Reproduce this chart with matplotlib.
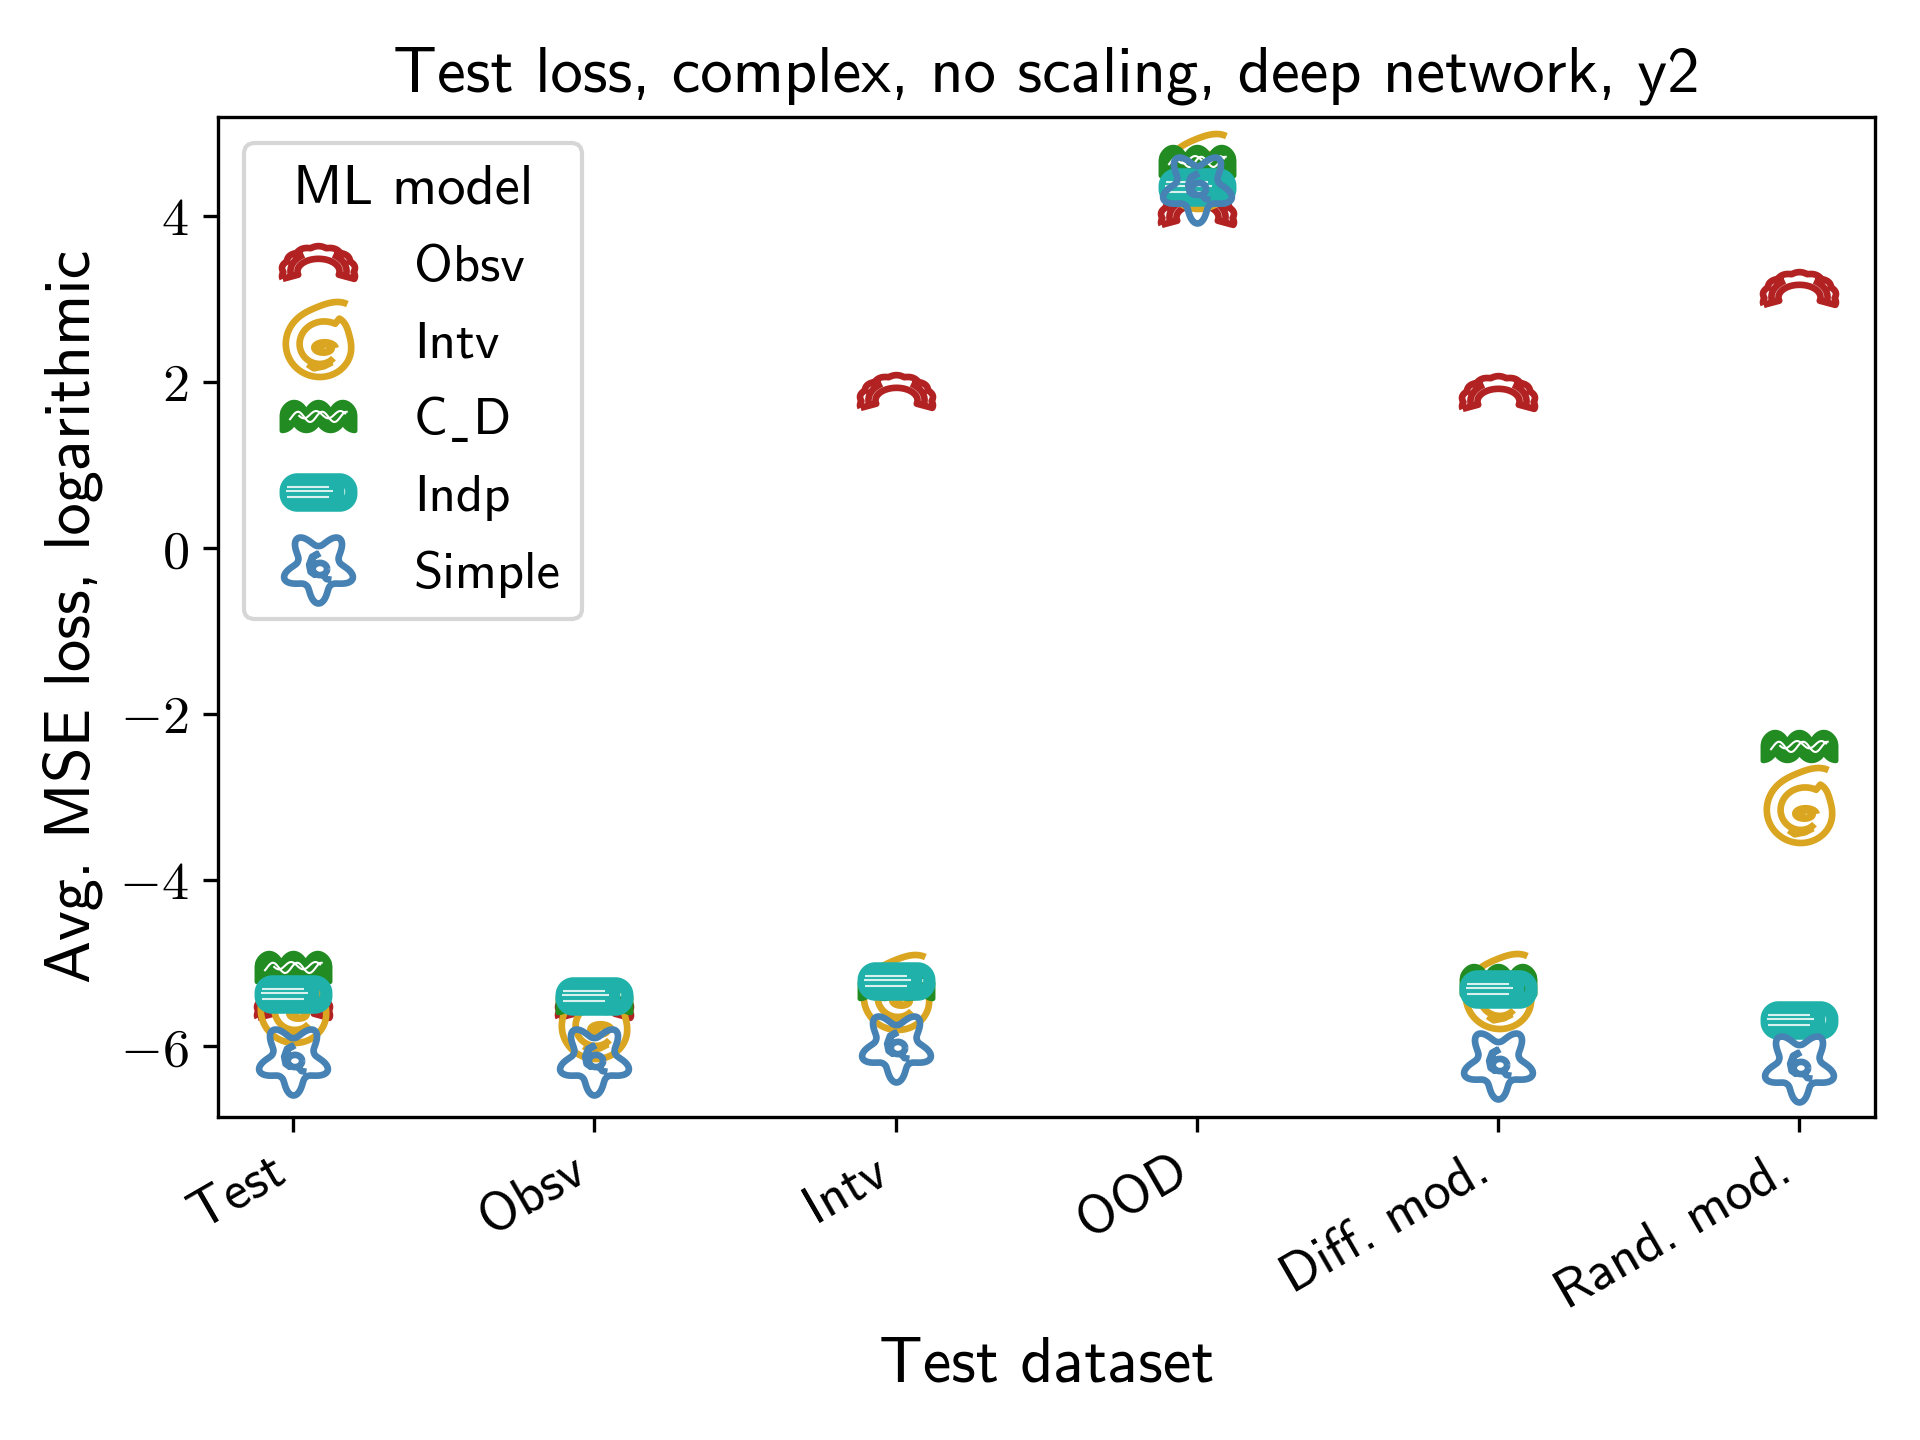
import numpy as np
import matplotlib
matplotlib.use('Agg')
import matplotlib.pyplot as plt
from matplotlib.path import Path
from matplotlib.ticker import FuncFormatter

plt.rcParams['font.family'] = ['cmss10', 'DejaVu Sans']
plt.rcParams['mathtext.fontset'] = 'cm'
plt.rcParams['axes.unicode_minus'] = False

# data
datasets = ['Test', 'Obsv', 'Intv', 'OOD', 'Diff. mod.', 'Rand. mod.']
models = ['Obsv', 'Intv', 'C\u02cdD', 'Indp', 'Simple']
loss_obsv = [-5.45, -5.45, 1.9, 4.1, 1.88, 3.14]
loss_intv = [-5.5, -5.7, -5.35, 4.55, -5.33, -3.1]
loss_cd = [-5.05, -5.42, -5.25, 4.66, -5.2, -2.38]
loss_indp = [-5.37, -5.4, -5.21, 4.35, -5.31, -5.69]
loss_simple = [-6.19, -6.19, -6.04, 4.32, -6.24, -6.27]

colors = ['#B22222', '#DAA520', '#228B22', '#20B2AA', '#4682B4']


# ---- pasta-like marker shapes ----
def polyline_path(lines, closed=None):
    verts = []
    codes = []
    for i, pts in enumerate(lines):
        pts = np.asarray(pts)
        verts.extend(pts.tolist())
        codes.append(Path.MOVETO)
        codes.extend([Path.LINETO] * (len(pts) - 1))
        if closed is not None and closed[i]:
            verts.append(pts[0].tolist())
            codes.append(Path.CLOSEPOLY)
    return np.array(verts), codes


def centre(verts, ref=None):
    ref = verts if ref is None else ref
    c = (ref.max(axis=0) + ref.min(axis=0)) / 2
    v = verts - c
    s = np.max(np.abs(ref - c))
    return v / s


def arch_marker():
    th = np.linspace(np.radians(195), np.radians(-15), 160)
    bump = 0.06 * np.abs(np.sin(7 * th))
    outer = np.c_[(1 + bump) * np.cos(th), 0.7 * (1 + bump) * np.sin(th)]
    th2 = np.linspace(np.radians(-15), np.radians(195), 80)
    inner = np.c_[0.6 * np.cos(th2), 0.02 + 0.36 * np.sin(th2)]
    ring = np.vstack([outer, inner, outer[:1]])
    th3 = np.linspace(np.radians(200), np.radians(-20), 60)
    mid = np.c_[0.8 * np.cos(th3), 0.03 + 0.55 * np.sin(th3)]
    v, c = polyline_path([ring, mid[3:22], mid[38:57]])
    return Path(centre(v), c)


def spiral_marker():
    t = np.linspace(0, 3.4 * np.pi, 400)
    r = 1 - 0.17 * t / np.pi
    ang = t + np.radians(60)
    r = r * (1 + 0.25 * np.exp(-((np.mod(ang, 2 * np.pi) - np.radians(60)) / 0.5) ** 2) * (t < 2 * np.pi))
    pts = np.c_[r * np.cos(ang), 0.95 * r * np.sin(ang)]
    bt = np.linspace(0, 4 * np.pi, 80)
    br = 0.22 - 0.012 * bt
    blob = np.c_[0.05 + 1.3 * br * np.cos(bt), -0.05 + 0.7 * br * np.sin(bt)]
    hook = np.array([[-0.35, -0.45], [-0.2, -0.55], [0.05, -0.5], [0.25, -0.4]])
    v, c = polyline_path([pts, blob, hook])
    return Path(centre(v, pts), c)


def star_marker():
    th = np.linspace(0, 2 * np.pi, 300)
    r = 0.6 + 0.4 * ((1 + np.cos(5 * (th + np.pi / 2))) / 2) ** 1.3
    star = np.c_[r * np.cos(th), r * np.sin(th)]
    tt = np.linspace(0, 2 * np.pi, 50)
    loop = np.c_[0.04 + 0.2 * np.cos(tt), -0.04 + 0.17 * np.sin(tt)]
    stem = np.array([[0.0, 0.4], [-0.18, 0.3], [-0.26, 0.08], [-0.22, -0.12], [-0.08, -0.22]])
    stem2 = stem + [0.04, 0.0]
    tail = np.array([[0.12, -0.2], [0.22, -0.32], [0.36, -0.34]])
    v, c = polyline_path([star, loop, stem, stem2, tail])
    return Path(centre(v, star), c)


def fusilli_marker():
    x = np.linspace(-1, 1, 120)
    top = 0.04 + 0.36 * np.abs(np.sin(1.5 * np.pi * (x + 1))) ** 0.5
    bot = -0.08 - 0.3 * np.abs(np.sin(1.5 * np.pi * (x + 1) + np.pi / 2)) ** 0.5
    outline = np.vstack([np.c_[x, top], np.c_[x[::-1], bot[::-1]]])
    v, c = polyline_path([outline], closed=[True])
    main = Path(centre(v, outline), c)
    xs = np.linspace(-0.8, 0.8, 80)
    w1 = np.c_[xs, 0.0 + 0.14 * np.sin(3 * np.pi * xs + 0.6)]
    xs2 = np.linspace(-0.55, 0.75, 50)
    w2 = np.c_[xs2, 0.06 + 0.1 * np.sin(3 * np.pi * xs2 + 2.2)]
    dv, dc = polyline_path([w1, w2])
    detail = Path(centre(dv, outline), dc)
    return main, detail


def rigatoni_marker():
    rad = 0.42
    h = 0.46
    arcs = []
    for cx, cy, a0 in [(1 - rad, h - rad, 0), (-1 + rad, h - rad, 90),
                       (-1 + rad, -h + rad, 180), (1 - rad, -h + rad, 270)]:
        a = np.radians(np.linspace(a0, a0 + 90, 15))
        arcs.append(np.c_[cx + rad * np.cos(a), cy + rad * np.sin(a)])
    outline = np.vstack(arcs)
    a = np.linspace(0, -2 * np.pi, 40)
    hole = np.c_[0.72 + 0.08 * np.cos(a), 0.02 + 0.22 * np.sin(a)]
    v, c = polyline_path([outline, hole], closed=[True, True])
    main = Path(centre(v, outline), c)
    lines = [np.array([[-0.85, 0.15], [0.3, 0.15]]),
             np.array([[-0.88, 0.03], [0.4, 0.03]]),
             np.array([[-0.85, -0.13], [0.3, -0.13]])]
    dv, dc = polyline_path(lines)
    detail = Path(centre(dv, outline), dc)
    return main, detail


m_obsv = arch_marker()
m_intv = spiral_marker()
m_cd, m_cd_detail = fusilli_marker()
m_indp, m_indp_detail = rigatoni_marker()
m_simple = star_marker()


def detail_size(main, detail, ms):
    return ms * np.max(np.abs(detail.vertices)) / np.max(np.abs(main.vertices))


fig, ax = plt.subplots(figsize=(6.4, 4.8), dpi=300)
fig.subplots_adjust(left=0.1135, right=0.9764, bottom=0.2245, top=0.919)

xpos = np.arange(len(datasets))

h_obsv, = ax.plot(xpos, loss_obsv, linestyle='none', marker=m_obsv, markersize=17.5,
                  markerfacecolor='none', markeredgecolor=colors[0], markeredgewidth=1.6)
h_intv, = ax.plot(xpos, loss_intv, linestyle='none', marker=m_intv, markersize=18,
                  markerfacecolor='none', markeredgecolor=colors[1], markeredgewidth=1.6)
h_cd, = ax.plot(xpos, loss_cd, linestyle='none', marker=m_cd, markersize=17.5,
                markerfacecolor=colors[2], markeredgecolor=colors[2], markeredgewidth=1.2)
h_cd2, = ax.plot(xpos, loss_cd, linestyle='none', marker=m_cd_detail,
                 markersize=detail_size(m_cd, m_cd_detail, 17.5),
                 markerfacecolor='none', markeredgecolor='white', markeredgewidth=0.5)
h_indp, = ax.plot(xpos, loss_indp, linestyle='none', marker=m_indp, markersize=17.5,
                  markerfacecolor=colors[3], markeredgecolor=colors[3], markeredgewidth=1.2)
h_indp2, = ax.plot(xpos, loss_indp, linestyle='none', marker=m_indp_detail,
                   markersize=detail_size(m_indp, m_indp_detail, 17.5),
                   markerfacecolor='none', markeredgecolor='#d8f0ee', markeredgewidth=0.5)
h_simple, = ax.plot(xpos, loss_simple, linestyle='none', marker=m_simple, markersize=16.5,
                    markerfacecolor='none', markeredgecolor=colors[4], markeredgewidth=1.6)

ax.set_xlim(-0.25, 5.25)
ax.set_ylim(-6.85, 5.2)
ax.set_xticks(xpos)
ax.set_xticklabels(datasets, rotation=30, ha='right', fontsize=13)
ax.set_yticks([-6, -4, -2, 0, 2, 4])
ax.yaxis.set_major_formatter(FuncFormatter(lambda v, p: '$%d$' % v))
ax.tick_params(axis='y', labelsize=13)

ax.set_title('Test loss, complex, no scaling, deep network, y2', fontsize=15.5)
ax.set_xlabel('Test dataset', fontsize=15.4)
ax.set_ylabel('Avg. MSE loss, logarithmic', fontsize=15.5)

ax.legend([h_obsv, h_intv, (h_cd, h_cd2), (h_indp, h_indp2), h_simple], models,
          title='ML model', loc='upper left', fontsize=12.7, title_fontsize=13.6,
          labelspacing=0.56)

plt.savefig('out.png')
